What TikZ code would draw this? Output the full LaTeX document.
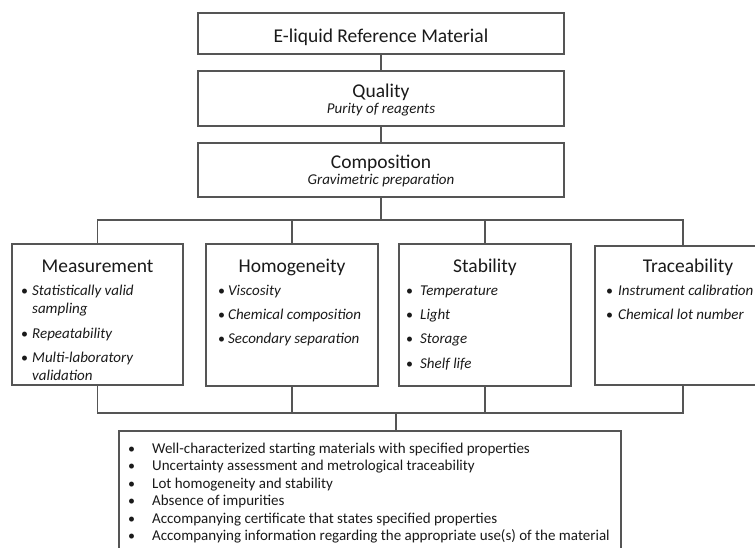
\documentclass[tikz,border=0pt]{standalone}
\usepackage{fontspec}
\setmainfont{Carlito}
\definecolor{lc}{HTML}{555555}
\definecolor{tc}{HTML}{1A1A1A}
\tikzset{
  box/.style={draw=lc, line width=1.2pt, anchor=north west, inner sep=0pt, outer sep=0pt},
  conn/.style={draw=lc, line width=1.2pt},
  ttl/.style={font=\fontsize{19.5}{23}\selectfont, text=tc, anchor=base, inner sep=0pt},
  sub/.style={font=\fontsize{15}{18}\itshape, text=tc, anchor=base, inner sep=0pt},
  itm/.style={font=\fontsize{15}{18}\itshape, text=tc, anchor=base west, inner sep=0pt},
  bul/.style={font=\fontsize{14}{17}\selectfont, text=tc, anchor=base west, inner sep=0pt},
  btx/.style={font=\fontsize{15}{18}\selectfont, text=tc, anchor=base west, inner sep=0pt},
}
\begin{document}
\begin{tikzpicture}[x=1pt,y=-1pt]
\clip (0,0) rectangle (755,547);
\fill[white] (0,0) rectangle (755,547);
% top boxes
\node[box, minimum width=366pt, minimum height=41pt] (top) at (198,13) {};
\node[box, minimum width=366pt, minimum height=55pt] (qual) at (198,71) {};
\node[box, minimum width=366pt, minimum height=54pt] (comp) at (198,143) {};
\node[ttl] (topt) at (381,42) {E-liquid Reference Material};
\node[ttl] (qualt) at (381,97) {Quality};
\node[sub] (quals) at (381,113) {Purity of reagents};
\node[ttl] (compt) at (381,168) {Composition};
\node[sub] (comps) at (381,184) {Gravimetric preparation};
% row boxes
\node[box, minimum width=171pt, minimum height=141pt] (meas) at (12,244) {};
\node[box, minimum width=172pt, minimum height=142pt] (homog) at (206,244) {};
\node[box, minimum width=172pt, minimum height=142pt] (stab) at (399,244) {};
\node[box, minimum width=176pt, minimum height=139pt] (trace) at (595,246) {};
\node[ttl] (meast) at (97.5,272) {Measurement};
\node[ttl] (homogt) at (292,272) {Homogeneity};
\node[ttl] (stabt) at (485,272) {Stability};
\node[ttl] (tracet) at (688,272) {Traceability};
% measurement items
\node[bul] (mb1) at (21,295) {\textbullet};
\node[itm] (m1) at (32,295) {Statistically valid};
\node[itm] (m1b) at (32,313) {sampling};
\node[bul] (mb2) at (21,338) {\textbullet};
\node[itm] (m2) at (32,338) {Repeatability};
\node[bul] (mb3) at (21,362) {\textbullet};
\node[itm] (m3) at (32,362) {Multi-laboratory};
\node[itm] (m3b) at (32,380) {validation};
% homogeneity items
\node[bul] (hb1) at (218,295) {\textbullet};
\node[itm] (h1) at (228,295) {Viscosity};
\node[bul] (hb2) at (218,319) {\textbullet};
\node[itm] (h2) at (228,319) {Chemical composition};
\node[bul] (hb3) at (218,343) {\textbullet};
\node[itm] (h3) at (228,343) {Secondary separation};
% stability items
\node[bul] (sb1) at (406,295) {\textbullet};
\node[itm] (s1) at (420,295) {Temperature};
\node[bul] (sb2) at (406,319) {\textbullet};
\node[itm] (s2) at (420,319) {Light};
\node[bul] (sb3) at (406,343) {\textbullet};
\node[itm] (s3) at (420,343) {Storage};
\node[bul] (sb4) at (406,368) {\textbullet};
\node[itm] (s4) at (420,368) {Shelf life};
% traceability items
\node[bul] (tb1) at (606,295) {\textbullet};
\node[itm] (t1) at (618,295) {Instrument calibration};
\node[bul] (tb2) at (606,319) {\textbullet};
\node[itm] (t2) at (618,319) {Chemical lot number};
% bottom box
\node[box, minimum width=502pt, minimum height=140pt] (bot) at (119,431) {};
\node[bul] (bb1) at (128,453) {\textbullet};
\node[btx] (b1) at (152,453) {Well-characterized starting materials with specified properties};
\node[bul] (bb2) at (128,470.5) {\textbullet};
\node[btx] (b2) at (152,470.5) {Uncertainty assessment and metrological traceability};
\node[bul] (bb3) at (128,488) {\textbullet};
\node[btx] (b3) at (152,488) {Lot homogeneity and stability};
\node[bul] (bb4) at (128,505.5) {\textbullet};
\node[btx] (b4) at (152,505.5) {Absence of impurities};
\node[bul] (bb5) at (128,523) {\textbullet};
\node[btx] (b5) at (152,523) {Accompanying certificate that states specified properties};
\node[bul] (bb6) at (128,540.5) {\textbullet};
\node[btx] (b6) at (152,540.5) {Accompanying information regarding the appropriate use(s) of the material};
% connectors
\coordinate (tl) at (97.5,220);
\coordinate (bl) at (97.5,413);
\coordinate (bj) at (396,413);
\draw[conn] (top.south) -- (qual.north);
\draw[conn] (qual.south) -- (comp.north);
\draw[conn] (comp.south) -- (comp.south |- tl);
\draw[conn] (meas.north) -- (tl) -- (tl -| trace.north) -- (trace.north);
\draw[conn] (homog.north) -- (homog.north |- tl);
\draw[conn] (stab.north) -- (stab.north |- tl);
\draw[conn] (meas.south) -- (bl) -- (bl -| trace.south) -- (trace.south);
\draw[conn] (homog.south) -- (homog.south |- bl);
\draw[conn] (stab.south) -- (stab.south |- bl);
\draw[conn] (bj) -- (bj |- bot.north);
\end{tikzpicture}
\end{document}
